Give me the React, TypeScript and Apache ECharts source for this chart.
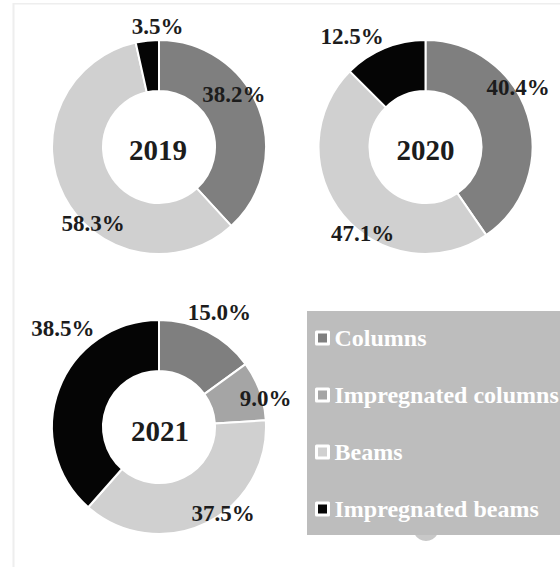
import React, { useEffect, useRef } from "react";
import * as echarts from "echarts";

const categories = ["Columns", "Impregnated columns", "Beams", "Impregnated beams"];
const years = ["2019", "2020", "2021"];
const values2019 = [38.2, 0, 58.3, 3.5];
const values2020 = [40.4, 0, 47.1, 12.5];
const values2021 = [15.0, 9.0, 37.5, 38.5];

const colors: Record<string, string> = {
  Columns: "#7f7f7f",
  "Impregnated columns": "#a5a5a5",
  Beams: "#d0d0d0",
  "Impregnated beams": "#050505",
};

// layout (positions / styles)
const centers: [number, number][] = [
  [159, 147],
  [425.5, 147],
  [159, 427],
];
const yearTextPos: [number, number][] = [
  [158, 150],
  [425.5, 150],
  [160, 431],
];
const labelOffsets: Record<string, [number, number]>[] = [
  { Columns: [-4, -22], Beams: [9, 37], "Impregnated beams": [8, -37] },
  { Columns: [12, -34], Beams: [2, 32], "Impregnated beams": [-41, -32] },
  {
    Columns: [22, -39],
    "Impregnated columns": [27, 0],
    Beams: [27, 11],
    "Impregnated beams": [-17, -69],
  },
];

const FONT = "'Liberation Serif', 'Times New Roman', serif";

export default function App() {
  const ref = useRef<HTMLDivElement>(null);
  useEffect(() => {
    if (!ref.current) return;
    const chart = echarts.init(ref.current, undefined, { renderer: "svg" });
    const allValues = [values2019, values2020, values2021];
    const series = allValues.map((vals, i) => ({
      type: "pie",
      name: years[i],
      center: centers[i],
      radius: [56, 107],
      startAngle: 90,
      clockwise: true,
      avoidLabelOverlap: false,
      silent: true,
      itemStyle: { borderColor: "#ffffff", borderWidth: 2 },
      label: {
        show: true,
        position: "inside",
        fontFamily: FONT,
        fontWeight: "bold",
        fontSize: 23,
        color: "#1c1c1c",
        formatter: (p: any) => Number(p.value).toFixed(1) + "%",
      },
      labelLine: { show: false },
      emphasis: { disabled: true },
      data: categories
        .map((c, k) => ({ name: c, value: vals[k] }))
        .filter((d) => d.value > 0)
        .map((d) => ({
          ...d,
          itemStyle: { color: colors[d.name] },
          label: { offset: labelOffsets[i][d.name] || [0, 0] },
        })),
    }));

    chart.setOption({
      animation: false,
      backgroundColor: "#ffffff",
      legend: {
        data: categories,
        orient: "vertical",
        left: 307,
        top: 311,
        padding: [15, 20, 15, 8],
        itemGap: 33,
        itemWidth: 12,
        itemHeight: 12,
        icon: "rect",
        itemStyle: { borderColor: "#ffffff", borderWidth: 3 },
        textStyle: {
          color: "#ffffff",
          fontFamily: FONT,
          fontWeight: "bold",
          fontSize: 24,
          lineHeight: 24,
          padding: [0, 0, 0, 1],
        },
        selectedMode: false,
      },
      graphic: [
        {
          type: "line",
          shape: { x1: 13.5, y1: 3, x2: 13.5, y2: 567 },
          style: { stroke: "#eeeeee", lineWidth: 2 },
          silent: true,
        },
        {
          type: "line",
          shape: { x1: 13, y1: 3.8, x2: 560, y2: 3.8 },
          style: { stroke: "#eeeeee", lineWidth: 1.5 },
          silent: true,
        },
        {
          type: "circle",
          shape: { cx: 426, cy: 528, r: 13 },
          style: { fill: "#c8c8c8" },
          silent: true,
          z: 0,
        },
        {
          type: "rect",
          shape: { x: 307, y: 311, width: 260, height: 224 },
          style: { fill: "#bdbdbd" },
          silent: true,
          z: 1,
        },
        ...years.map((y, i) => ({
          type: "text",
          x: yearTextPos[i][0],
          y: yearTextPos[i][1],
          z: 10,
          silent: true,
          style: {
            text: y,
            fill: "#1c1c1c",
            font: `bold 29px ${FONT}`,
            align: "center",
            verticalAlign: "middle",
          },
        })),
      ],
      series,
    });
    return () => chart.dispose();
  }, []);
  return (
    <div
      ref={ref}
      style={{ position: "fixed", left: 0, top: 0, width: 560, height: 567 }}
    />
  );
}
